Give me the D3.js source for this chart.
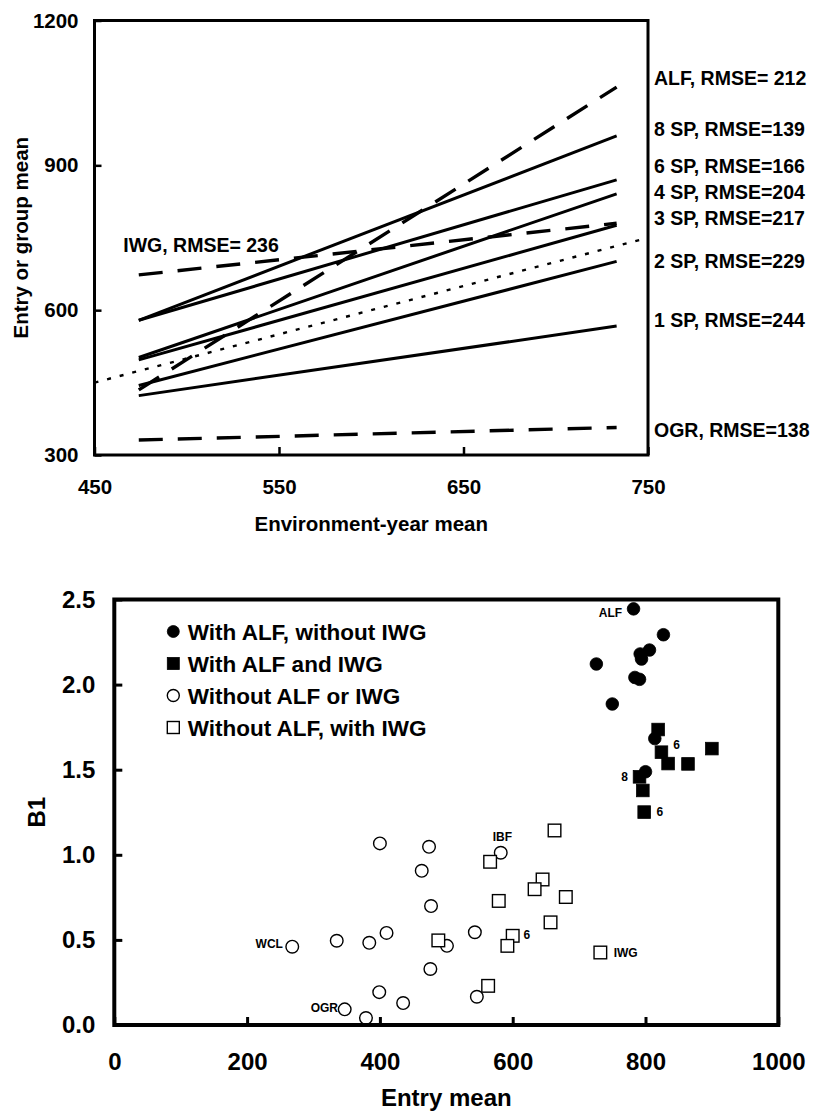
<!DOCTYPE html>
<html>
<head>
<meta charset="utf-8">
<script src="https://cdn.jsdelivr.net/npm/d3@7"></script>
<style>
  html, body { margin: 0; padding: 0; background: #fff; }
  svg { display: block; }
  text { font-family: "Liberation Sans", Arial, Helvetica, sans-serif; font-weight: bold; fill: #000; }
</style>
</head>
<body>
<svg id="chart" width="814" height="1114"></svg>
<script>
// ---------------- DATA: top panel (regression lines) ----------------
const envRange = [474, 733];                 // environment-year mean range of each line
const groupNames = ["ALF", "8 SP", "6 SP", "4 SP", "3 SP", "2 SP", "1 SP", "IWG", "OGR"];
const meanAtLow  = [435, 579, 579, 502, 497, 444, 423, 673, 331];
const meanAtHigh = [1062, 961, 870, 841, 776, 701, 567, 780, 357];
const groupLabels = ["ALF, RMSE= 212", "8 SP, RMSE=139", "6 SP, RMSE=166", "4 SP, RMSE=204",
                     "3 SP, RMSE=217", "2 SP, RMSE=229", "1 SP, RMSE=244", "IWG, RMSE= 236", "OGR, RMSE=138"];
const oneToOne = [450, 748];                 // 1:1 reference line
const topXTicks = [450, 550, 650, 750];
const topYTicks = [300, 600, 900, 1200];

// ---------------- DATA: bottom panel (scatter) ----------------
const seriesNames = ["With ALF, without IWG", "With ALF and IWG", "Without ALF or IWG", "Without ALF, with IWG"];
const alfNoIwgX = [782, 827, 806, 792, 794, 726, 784, 791, 750, 814, 800];
const alfNoIwgY = [2.445, 2.293, 2.203, 2.180, 2.150, 2.121, 2.042, 2.031, 1.886, 1.683, 1.488];
const alfIwgX = [819, 824, 834, 864, 900, 791, 796, 798];
const alfIwgY = [1.736, 1.603, 1.536, 1.534, 1.624, 1.458, 1.378, 1.251];
const noAlfNoIwgX = [400, 463, 268, 335, 384, 410, 399, 435, 347, 379, 474, 477, 501, 476, 543, 546, 582];
const noAlfNoIwgY = [1.067, 0.906, 0.460, 0.495, 0.483, 0.541, 0.193, 0.129, 0.092, 0.041, 1.047, 0.699, 0.465, 0.329, 0.545, 0.166, 1.012];
const noAlfIwgX = [663, 566, 645, 633, 579, 680, 657, 488, 600, 592, 732, 563];
const noAlfIwgY = [1.143, 0.959, 0.855, 0.798, 0.729, 0.752, 0.603, 0.497, 0.524, 0.465, 0.426, 0.230];
// point annotations: text, series index, point index
const annoText   = ["ALF", "IBF", "6", "IWG", "WCL", "OGR", "6", "8", "6"];
const annoSeries = [0, 2, 3, 3, 2, 2, 1, 1, 1];
const annoPoint  = [0, 16, 8, 10, 2, 8, 1, 5, 7];
const botXTicks = [0, 200, 400, 600, 800, 1000];
const botYTicks = [0, 0.5, 1.0, 1.5, 2.0, 2.5];

// ---------------- LAYOUT ----------------
const svg = d3.select("#chart");
const FONT = '"Liberation Sans", Arial, Helvetica, sans-serif';

// ===== Top panel =====
const T = { left: 94.5, right: 648, top: 20.5, bottom: 455 };
const xT = d3.scaleLinear().domain([450, 750]).range([T.left, T.right]);
const yT = d3.scaleLinear().domain([300, 1200]).range([T.bottom, T.top]);
const gT = svg.append("g");

const dashedGroups = new Set(["ALF", "IWG", "OGR"]);
const lineGen = d3.line().x(d => xT(d[0])).y(d => yT(d[1]));

// 1:1 dotted line
gT.append("path")
  .datum(oneToOne.map(v => [v, v]))
  .attr("d", lineGen)
  .attr("fill", "none").attr("stroke", "#000")
  .attr("stroke-width", 2.4).attr("stroke-dasharray", "4,9");

groupNames.forEach((name, i) => {
  const pts = [[envRange[0], meanAtLow[i]], [envRange[1], meanAtHigh[i]]];
  const dashed = dashedGroups.has(name);
  gT.append("path")
    .datum(pts)
    .attr("d", lineGen)
    .attr("fill", "none").attr("stroke", "#000")
    .attr("stroke-width", dashed ? 3.4 : 3)
    .attr("stroke-dasharray", dashed ? "24,15" : null);
});

// frame
gT.append("rect").attr("x", T.left).attr("y", T.top)
  .attr("width", T.right - T.left).attr("height", T.bottom - T.top)
  .attr("fill", "none").attr("stroke", "#000").attr("stroke-width", 3);

// axes
const axYT = gT.append("g").attr("transform", `translate(${T.left},0)`)
  .call(d3.axisLeft(yT).tickValues(topYTicks).tickSizeInner(-7).tickSizeOuter(0).tickPadding(16).tickFormat(d3.format("d")));
const axXT = gT.append("g").attr("transform", `translate(0,${T.bottom})`)
  .call(d3.axisBottom(xT).tickValues(topXTicks).tickSizeInner(-8).tickSizeOuter(0).tickPadding(24).tickFormat(d3.format("d")));
[axYT, axXT].forEach(a => {
  a.select(".domain").remove();
  a.selectAll(".tick line").attr("stroke", "#000").attr("stroke-width", 2.5);
  a.selectAll(".tick text").attr("font-family", FONT).attr("font-weight", "bold").attr("font-size", 20.5).attr("fill", "#000");
});

// group labels
const labelPos = {
  "ALF": [654, 77.7], "8 SP": [654, 129.3], "6 SP": [654, 165.7], "4 SP": [654, 191.7],
  "3 SP": [654, 218.3], "2 SP": [654, 261], "1 SP": [654, 320], "IWG": [123.3, 245], "OGR": [654, 430]
};
groupNames.forEach((name, i) => {
  const p = labelPos[name];
  gT.append("text").attr("x", p[0]).attr("y", p[1]).attr("dy", "0.36em")
    .attr("font-size", 19.5).text(groupLabels[i]);
});

// axis titles
gT.append("text").attr("transform", `translate(21,${(T.top + T.bottom) / 2}) rotate(-90)`)
  .attr("text-anchor", "middle").attr("dy", "0.36em").attr("font-size", 20.5).text("Entry or group mean");
gT.append("text").attr("x", (T.left + T.right) / 2).attr("y", 523.5).attr("dy", "0.36em")
  .attr("text-anchor", "middle").attr("font-size", 20.5).text("Environment-year mean");

// ===== Bottom panel =====
const B = { left: 114.3, right: 778.3, top: 599.5, bottom: 1025 };
const xB = d3.scaleLinear().domain([0, 1000]).range([B.left, B.right]);
const yB = d3.scaleLinear().domain([0, 2.5]).range([B.bottom, B.top]);
const gB = svg.append("g");

const seriesX = [alfNoIwgX, alfIwgX, noAlfNoIwgX, noAlfIwgX];
const seriesY = [alfNoIwgY, alfIwgY, noAlfNoIwgY, noAlfIwgY];
const seriesShape = ["circle", "square", "circle", "square"];
const seriesFilled = [true, true, false, false];

function drawMarker(g, shape, filled, cx, cy, size) {
  if (shape === "circle") {
    g.append("circle").attr("cx", cx).attr("cy", cy).attr("r", size / 2)
      .attr("fill", filled ? "#000" : "#fff").attr("stroke", "#000").attr("stroke-width", filled ? 0.8 : 1.4);
  } else {
    g.append("rect").attr("x", cx - size / 2).attr("y", cy - size / 2).attr("width", size).attr("height", size)
      .attr("fill", filled ? "#000" : "#fff").attr("stroke", "#000").attr("stroke-width", filled ? 0.8 : 1.4);
  }
}

// draw order: open circles, open squares, filled squares, filled circles
[2, 3, 1, 0].forEach(s => {
  const g = gB.append("g");
  seriesX[s].forEach((xv, i) => {
    drawMarker(g, seriesShape[s], seriesFilled[s], xB(xv), yB(seriesY[s][i]), 12.6);
  });
});

// annotations
const annoOffset = [
  { dx: -11.5, dy: 4.3, anchor: "end" },    // ALF
  { dx: 1.7, dy: -15.7, anchor: "middle" }, // IBF
  { dx: 10.7, dy: -1.6, anchor: "start" },  // 6
  { dx: 13.3, dy: 0, anchor: "start" },     // IWG
  { dx: -9.3, dy: -2.7, anchor: "end" },    // WCL
  { dx: -6.7, dy: -2, anchor: "end" },      // OGR
  { dx: 11.7, dy: -7, anchor: "start" },    // 6
  { dx: -11.7, dy: 0, anchor: "end" },      // 8
  { dx: 12.3, dy: 0, anchor: "start" }      // 6
];
annoText.forEach((t, k) => {
  const s = annoSeries[k], i = annoPoint[k];
  const o = annoOffset[k];
  gB.append("text")
    .attr("x", xB(seriesX[s][i]) + o.dx).attr("y", yB(seriesY[s][i]) + o.dy).attr("dy", "0.36em")
    .attr("text-anchor", o.anchor).attr("font-size", 12).text(t);
});

// frame
gB.append("rect").attr("x", B.left).attr("y", B.top)
  .attr("width", B.right - B.left).attr("height", B.bottom - B.top)
  .attr("fill", "none").attr("stroke", "#000").attr("stroke-width", 4);

const axYB = gB.append("g").attr("transform", `translate(${B.left},0)`)
  .call(d3.axisLeft(yB).tickValues(botYTicks).tickSizeInner(-8).tickSizeOuter(0).tickPadding(19).tickFormat(d3.format(".1f")));
const axXB = gB.append("g").attr("transform", `translate(0,${B.bottom})`)
  .call(d3.axisBottom(xB).tickValues(botXTicks).tickSizeInner(-8).tickSizeOuter(0).tickPadding(28).tickFormat(d3.format("d")));
[axYB, axXB].forEach(a => {
  a.select(".domain").remove();
  a.selectAll(".tick line").attr("stroke", "#000").attr("stroke-width", 3);
  a.selectAll(".tick text").attr("font-family", FONT).attr("font-weight", "bold").attr("font-size", 24).attr("fill", "#000");
});

gB.append("text").attr("transform", `translate(36,${(B.top + B.bottom) / 2}) rotate(-90)`)
  .attr("text-anchor", "middle").attr("dy", "0.36em").attr("font-size", 24).text("B1");
gB.append("text").attr("x", (B.left + B.right) / 2).attr("y", 1097).attr("dy", "0.36em")
  .attr("text-anchor", "middle").attr("font-size", 24).text("Entry mean");

// legend
const legRows = [631.5, 663.5, 695.5, 727.5];
const legOrder = [0, 1, 2, 3];
legOrder.forEach((s, r) => {
  drawMarker(gB, seriesShape[s], seriesFilled[s], 173.3, legRows[r], 12);
  gB.append("text").attr("x", 187.7).attr("y", legRows[r]).attr("dy", "0.36em")
    .attr("font-size", 22.5).text(seriesNames[s]);
});
</script>
</body>
</html>
